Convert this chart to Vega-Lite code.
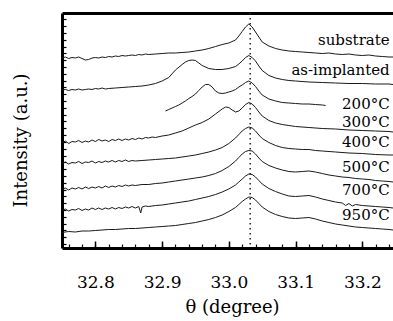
{
  "$schema": "https://vega.github.io/schema/vega-lite/v6.json",
  "width": 331,
  "height": 235,
  "autosize": {"type": "none"},
  "padding": {"left": 62, "top": 13, "right": 0, "bottom": 73},
  "background": "white",
  "config": {"view": {"stroke": null}, "font": "DejaVu Serif"},
  "datasets": {
    "curves": [
      {"s":"substrate","t":32.75,"i":190},{"s":"substrate","t":32.755,"i":191},{"s":"substrate","t":32.76,"i":189.5},{"s":"substrate","t":32.765,"i":190.5},{"s":"substrate","t":32.77,"i":190},{"s":"substrate","t":32.775,"i":191},{"s":"substrate","t":32.78,"i":189.5},{"s":"substrate","t":32.785,"i":188},{"s":"substrate","t":32.79,"i":188.5},{"s":"substrate","t":32.795,"i":190},{"s":"substrate","t":32.8,"i":190.5},{"s":"substrate","t":32.805,"i":190},{"s":"substrate","t":32.81,"i":191},{"s":"substrate","t":32.815,"i":190.5},{"s":"substrate","t":32.82,"i":191.5},{"s":"substrate","t":32.825,"i":191},{"s":"substrate","t":32.83,"i":192},{"s":"substrate","t":32.835,"i":191.5},{"s":"substrate","t":32.84,"i":192.5},{"s":"substrate","t":32.845,"i":192},{"s":"substrate","t":32.85,"i":192.5},{"s":"substrate","t":32.855,"i":193},{"s":"substrate","t":32.86,"i":192.5},{"s":"substrate","t":32.865,"i":193.5},{"s":"substrate","t":32.87,"i":193},{"s":"substrate","t":32.875,"i":194},{"s":"substrate","t":32.88,"i":193.5},{"s":"substrate","t":32.89,"i":194},{"s":"substrate","t":32.9,"i":194.5},{"s":"substrate","t":32.91,"i":195},{"s":"substrate","t":32.92,"i":195},{"s":"substrate","t":32.93,"i":195.5},{"s":"substrate","t":32.94,"i":196},{"s":"substrate","t":32.95,"i":197},{"s":"substrate","t":32.96,"i":198},{"s":"substrate","t":32.97,"i":199.5},{"s":"substrate","t":32.98,"i":201.5},{"s":"substrate","t":32.99,"i":203.5},{"s":"substrate","t":33.0,"i":205},{"s":"substrate","t":33.01,"i":208},{"s":"substrate","t":33.015,"i":212},{"s":"substrate","t":33.02,"i":216.5},{"s":"substrate","t":33.025,"i":221},{"s":"substrate","t":33.03,"i":224},{"s":"substrate","t":33.035,"i":221},{"s":"substrate","t":33.04,"i":216},{"s":"substrate","t":33.045,"i":211},{"s":"substrate","t":33.05,"i":206},{"s":"substrate","t":33.06,"i":202},{"s":"substrate","t":33.07,"i":199.5},{"s":"substrate","t":33.08,"i":198},{"s":"substrate","t":33.09,"i":197},{"s":"substrate","t":33.1,"i":196.5},{"s":"substrate","t":33.11,"i":196},{"s":"substrate","t":33.12,"i":195.5},{"s":"substrate","t":33.13,"i":195},{"s":"substrate","t":33.14,"i":194.5},{"s":"substrate","t":33.15,"i":195},{"s":"substrate","t":33.16,"i":194},{"s":"substrate","t":33.17,"i":193.5},{"s":"substrate","t":33.18,"i":194},{"s":"substrate","t":33.19,"i":193},{"s":"substrate","t":33.2,"i":192.5},{"s":"substrate","t":33.21,"i":193},{"s":"substrate","t":33.22,"i":192},{"s":"substrate","t":33.23,"i":191.5},{"s":"substrate","t":33.24,"i":191},{"s":"substrate","t":33.246,"i":191},

      {"s":"as-implanted","t":32.75,"i":158},{"s":"as-implanted","t":32.755,"i":158.5},{"s":"as-implanted","t":32.76,"i":157.5},{"s":"as-implanted","t":32.765,"i":158.5},{"s":"as-implanted","t":32.77,"i":158},{"s":"as-implanted","t":32.775,"i":159},{"s":"as-implanted","t":32.78,"i":158},{"s":"as-implanted","t":32.785,"i":158.5},{"s":"as-implanted","t":32.79,"i":159},{"s":"as-implanted","t":32.795,"i":158.5},{"s":"as-implanted","t":32.8,"i":159.5},{"s":"as-implanted","t":32.805,"i":159},{"s":"as-implanted","t":32.81,"i":160},{"s":"as-implanted","t":32.815,"i":159},{"s":"as-implanted","t":32.82,"i":159.5},{"s":"as-implanted","t":32.83,"i":160},{"s":"as-implanted","t":32.84,"i":160.5},{"s":"as-implanted","t":32.85,"i":161},{"s":"as-implanted","t":32.86,"i":161.5},{"s":"as-implanted","t":32.87,"i":162},{"s":"as-implanted","t":32.88,"i":163},{"s":"as-implanted","t":32.89,"i":164.5},{"s":"as-implanted","t":32.9,"i":167},{"s":"as-implanted","t":32.91,"i":170.5},{"s":"as-implanted","t":32.92,"i":178},{"s":"as-implanted","t":32.93,"i":183.5},{"s":"as-implanted","t":32.935,"i":186},{"s":"as-implanted","t":32.94,"i":187.5},{"s":"as-implanted","t":32.945,"i":188},{"s":"as-implanted","t":32.95,"i":187.5},{"s":"as-implanted","t":32.955,"i":185},{"s":"as-implanted","t":32.96,"i":182.5},{"s":"as-implanted","t":32.97,"i":179.5},{"s":"as-implanted","t":32.98,"i":178.5},{"s":"as-implanted","t":32.99,"i":178.5},{"s":"as-implanted","t":33.0,"i":179.5},{"s":"as-implanted","t":33.01,"i":181.5},{"s":"as-implanted","t":33.015,"i":184},{"s":"as-implanted","t":33.02,"i":187},{"s":"as-implanted","t":33.025,"i":190.5},{"s":"as-implanted","t":33.03,"i":192.5},{"s":"as-implanted","t":33.035,"i":190.5},{"s":"as-implanted","t":33.04,"i":187},{"s":"as-implanted","t":33.045,"i":182},{"s":"as-implanted","t":33.05,"i":177.5},{"s":"as-implanted","t":33.06,"i":172.5},{"s":"as-implanted","t":33.07,"i":170},{"s":"as-implanted","t":33.08,"i":168.5},{"s":"as-implanted","t":33.09,"i":167.5},{"s":"as-implanted","t":33.1,"i":167},{"s":"as-implanted","t":33.12,"i":166},{"s":"as-implanted","t":33.14,"i":165.5},{"s":"as-implanted","t":33.16,"i":165},{"s":"as-implanted","t":33.18,"i":164.5},{"s":"as-implanted","t":33.2,"i":164.5},{"s":"as-implanted","t":33.22,"i":164},{"s":"as-implanted","t":33.24,"i":164},{"s":"as-implanted","t":33.246,"i":163.5},

      {"s":"200","t":32.905,"i":137},{"s":"200","t":32.91,"i":138.5},{"s":"200","t":32.915,"i":140},{"s":"200","t":32.92,"i":141.5},{"s":"200","t":32.925,"i":143},{"s":"200","t":32.93,"i":145},{"s":"200","t":32.935,"i":147},{"s":"200","t":32.94,"i":149.5},{"s":"200","t":32.945,"i":151.5},{"s":"200","t":32.95,"i":154},{"s":"200","t":32.955,"i":157.5},{"s":"200","t":32.96,"i":161},{"s":"200","t":32.965,"i":163.5},{"s":"200","t":32.97,"i":163.5},{"s":"200","t":32.975,"i":161},{"s":"200","t":32.98,"i":157},{"s":"200","t":32.985,"i":155},{"s":"200","t":32.99,"i":154.5},{"s":"200","t":32.995,"i":155},{"s":"200","t":33.0,"i":156},{"s":"200","t":33.005,"i":157},{"s":"200","t":33.01,"i":158.5},{"s":"200","t":33.015,"i":161},{"s":"200","t":33.02,"i":163},{"s":"200","t":33.025,"i":165.5},{"s":"200","t":33.03,"i":167},{"s":"200","t":33.035,"i":165},{"s":"200","t":33.04,"i":161.5},{"s":"200","t":33.045,"i":157},{"s":"200","t":33.05,"i":153},{"s":"200","t":33.06,"i":149},{"s":"200","t":33.07,"i":147},{"s":"200","t":33.08,"i":145.5},{"s":"200","t":33.09,"i":145},{"s":"200","t":33.1,"i":144.5},{"s":"200","t":33.11,"i":144},{"s":"200","t":33.12,"i":144},{"s":"200","t":33.13,"i":143.5},{"s":"200","t":33.14,"i":143},{"s":"200","t":33.145,"i":142.5},

      {"s":"300","t":32.75,"i":105},{"s":"300","t":32.755,"i":107},{"s":"300","t":32.76,"i":104.5},{"s":"300","t":32.765,"i":106.5},{"s":"300","t":32.77,"i":106},{"s":"300","t":32.775,"i":107.5},{"s":"300","t":32.78,"i":105.5},{"s":"300","t":32.785,"i":107},{"s":"300","t":32.79,"i":106},{"s":"300","t":32.795,"i":108},{"s":"300","t":32.8,"i":106.5},{"s":"300","t":32.805,"i":108.5},{"s":"300","t":32.81,"i":107},{"s":"300","t":32.815,"i":108},{"s":"300","t":32.82,"i":106.5},{"s":"300","t":32.825,"i":108.5},{"s":"300","t":32.83,"i":107.5},{"s":"300","t":32.835,"i":109},{"s":"300","t":32.84,"i":107.5},{"s":"300","t":32.845,"i":109},{"s":"300","t":32.85,"i":108},{"s":"300","t":32.855,"i":109.5},{"s":"300","t":32.86,"i":108.5},{"s":"300","t":32.865,"i":110},{"s":"300","t":32.87,"i":109},{"s":"300","t":32.875,"i":110.5},{"s":"300","t":32.88,"i":110},{"s":"300","t":32.885,"i":111},{"s":"300","t":32.89,"i":110.5},{"s":"300","t":32.9,"i":112},{"s":"300","t":32.91,"i":113},{"s":"300","t":32.92,"i":115},{"s":"300","t":32.93,"i":117},{"s":"300","t":32.94,"i":120},{"s":"300","t":32.95,"i":123},{"s":"300","t":32.96,"i":125.5},{"s":"300","t":32.97,"i":129},{"s":"300","t":32.98,"i":134},{"s":"300","t":32.99,"i":139},{"s":"300","t":32.995,"i":141},{"s":"300","t":33.0,"i":140.5},{"s":"300","t":33.005,"i":138},{"s":"300","t":33.01,"i":136},{"s":"300","t":33.015,"i":137},{"s":"300","t":33.02,"i":140},{"s":"300","t":33.025,"i":143.5},{"s":"300","t":33.03,"i":145.5},{"s":"300","t":33.035,"i":144},{"s":"300","t":33.04,"i":140.5},{"s":"300","t":33.045,"i":136},{"s":"300","t":33.05,"i":132},{"s":"300","t":33.06,"i":127.5},{"s":"300","t":33.07,"i":125},{"s":"300","t":33.08,"i":123.5},{"s":"300","t":33.09,"i":122.5},{"s":"300","t":33.1,"i":121.5},{"s":"300","t":33.12,"i":120.5},{"s":"300","t":33.14,"i":119.5},{"s":"300","t":33.16,"i":119},{"s":"300","t":33.18,"i":118},{"s":"300","t":33.2,"i":117.5},{"s":"300","t":33.22,"i":117},{"s":"300","t":33.24,"i":116.5},{"s":"300","t":33.246,"i":116},

      {"s":"400","t":32.75,"i":84.5},{"s":"400","t":32.755,"i":86},{"s":"400","t":32.76,"i":84},{"s":"400","t":32.765,"i":85.5},{"s":"400","t":32.77,"i":85},{"s":"400","t":32.775,"i":86.5},{"s":"400","t":32.78,"i":84.5},{"s":"400","t":32.785,"i":86},{"s":"400","t":32.79,"i":85.5},{"s":"400","t":32.795,"i":87},{"s":"400","t":32.8,"i":85},{"s":"400","t":32.805,"i":86.5},{"s":"400","t":32.81,"i":85.5},{"s":"400","t":32.815,"i":87},{"s":"400","t":32.82,"i":86},{"s":"400","t":32.825,"i":87.5},{"s":"400","t":32.83,"i":86},{"s":"400","t":32.835,"i":87.5},{"s":"400","t":32.84,"i":86.5},{"s":"400","t":32.845,"i":88},{"s":"400","t":32.85,"i":86.5},{"s":"400","t":32.855,"i":87.5},{"s":"400","t":32.86,"i":87},{"s":"400","t":32.87,"i":87.5},{"s":"400","t":32.88,"i":88},{"s":"400","t":32.89,"i":88.5},{"s":"400","t":32.9,"i":89},{"s":"400","t":32.91,"i":89.5},{"s":"400","t":32.92,"i":90},{"s":"400","t":32.93,"i":91},{"s":"400","t":32.94,"i":92},{"s":"400","t":32.95,"i":93},{"s":"400","t":32.96,"i":94.5},{"s":"400","t":32.97,"i":96},{"s":"400","t":32.98,"i":98},{"s":"400","t":32.99,"i":100.5},{"s":"400","t":33.0,"i":104.5},{"s":"400","t":33.01,"i":110},{"s":"400","t":33.015,"i":113.5},{"s":"400","t":33.02,"i":117},{"s":"400","t":33.025,"i":119.5},{"s":"400","t":33.03,"i":121},{"s":"400","t":33.035,"i":120},{"s":"400","t":33.04,"i":117},{"s":"400","t":33.045,"i":113},{"s":"400","t":33.05,"i":109.5},{"s":"400","t":33.06,"i":105.5},{"s":"400","t":33.07,"i":102.5},{"s":"400","t":33.08,"i":100.5},{"s":"400","t":33.09,"i":99.5},{"s":"400","t":33.1,"i":99},{"s":"400","t":33.11,"i":98.5},{"s":"400","t":33.12,"i":98.5},{"s":"400","t":33.13,"i":97.5},{"s":"400","t":33.14,"i":97},{"s":"400","t":33.16,"i":96},{"s":"400","t":33.18,"i":95},{"s":"400","t":33.2,"i":94.5},{"s":"400","t":33.22,"i":93.5},{"s":"400","t":33.24,"i":93},{"s":"400","t":33.246,"i":93},

      {"s":"500","t":32.75,"i":58.5},{"s":"500","t":32.755,"i":60},{"s":"500","t":32.76,"i":58},{"s":"500","t":32.765,"i":60},{"s":"500","t":32.77,"i":59},{"s":"500","t":32.775,"i":60.5},{"s":"500","t":32.78,"i":59},{"s":"500","t":32.785,"i":61},{"s":"500","t":32.79,"i":59.5},{"s":"500","t":32.795,"i":61},{"s":"500","t":32.8,"i":60},{"s":"500","t":32.805,"i":61.5},{"s":"500","t":32.81,"i":60},{"s":"500","t":32.815,"i":62},{"s":"500","t":32.82,"i":60.5},{"s":"500","t":32.825,"i":62},{"s":"500","t":32.83,"i":61},{"s":"500","t":32.835,"i":62.5},{"s":"500","t":32.84,"i":61.5},{"s":"500","t":32.845,"i":63},{"s":"500","t":32.85,"i":62},{"s":"500","t":32.855,"i":63},{"s":"500","t":32.86,"i":62.5},{"s":"500","t":32.87,"i":63.5},{"s":"500","t":32.88,"i":63.5},{"s":"500","t":32.89,"i":64.5},{"s":"500","t":32.9,"i":65},{"s":"500","t":32.91,"i":66},{"s":"500","t":32.92,"i":67},{"s":"500","t":32.93,"i":68},{"s":"500","t":32.94,"i":69},{"s":"500","t":32.95,"i":70},{"s":"500","t":32.96,"i":71},{"s":"500","t":32.97,"i":72.5},{"s":"500","t":32.98,"i":74.5},{"s":"500","t":32.99,"i":77.5},{"s":"500","t":33.0,"i":81.5},{"s":"500","t":33.01,"i":87},{"s":"500","t":33.015,"i":90.5},{"s":"500","t":33.02,"i":94},{"s":"500","t":33.025,"i":96.5},{"s":"500","t":33.03,"i":97.5},{"s":"500","t":33.035,"i":97},{"s":"500","t":33.04,"i":94},{"s":"500","t":33.045,"i":90},{"s":"500","t":33.05,"i":86.5},{"s":"500","t":33.06,"i":82.5},{"s":"500","t":33.07,"i":80},{"s":"500","t":33.08,"i":78},{"s":"500","t":33.09,"i":76.5},{"s":"500","t":33.1,"i":76},{"s":"500","t":33.11,"i":76.5},{"s":"500","t":33.12,"i":77},{"s":"500","t":33.13,"i":76},{"s":"500","t":33.14,"i":74.5},{"s":"500","t":33.15,"i":73},{"s":"500","t":33.16,"i":72},{"s":"500","t":33.17,"i":71},{"s":"500","t":33.18,"i":70.5},{"s":"500","t":33.19,"i":69.5},{"s":"500","t":33.2,"i":69},{"s":"500","t":33.21,"i":68.5},{"s":"500","t":33.22,"i":67.5},{"s":"500","t":33.23,"i":67},{"s":"500","t":33.24,"i":66.5},{"s":"500","t":33.246,"i":66},

      {"s":"700","t":32.75,"i":37.5},{"s":"700","t":32.755,"i":39},{"s":"700","t":32.76,"i":37},{"s":"700","t":32.765,"i":38.5},{"s":"700","t":32.77,"i":38},{"s":"700","t":32.775,"i":39.5},{"s":"700","t":32.78,"i":37.5},{"s":"700","t":32.785,"i":39},{"s":"700","t":32.79,"i":38},{"s":"700","t":32.795,"i":40},{"s":"700","t":32.8,"i":38.5},{"s":"700","t":32.805,"i":40},{"s":"700","t":32.81,"i":38.5},{"s":"700","t":32.815,"i":40},{"s":"700","t":32.82,"i":39},{"s":"700","t":32.825,"i":40.5},{"s":"700","t":32.83,"i":39},{"s":"700","t":32.835,"i":40.5},{"s":"700","t":32.84,"i":39.5},{"s":"700","t":32.845,"i":41},{"s":"700","t":32.85,"i":40},{"s":"700","t":32.855,"i":41.5},{"s":"700","t":32.86,"i":40},{"s":"700","t":32.865,"i":41.5},{"s":"700","t":32.868,"i":35},{"s":"700","t":32.87,"i":41},{"s":"700","t":32.875,"i":42},{"s":"700","t":32.88,"i":41.5},{"s":"700","t":32.89,"i":42.5},{"s":"700","t":32.9,"i":43},{"s":"700","t":32.91,"i":44},{"s":"700","t":32.92,"i":45},{"s":"700","t":32.93,"i":46},{"s":"700","t":32.94,"i":47},{"s":"700","t":32.95,"i":48.5},{"s":"700","t":32.96,"i":50},{"s":"700","t":32.97,"i":51.5},{"s":"700","t":32.98,"i":53.5},{"s":"700","t":32.99,"i":56},{"s":"700","t":33.0,"i":59},{"s":"700","t":33.01,"i":63},{"s":"700","t":33.015,"i":66},{"s":"700","t":33.02,"i":69},{"s":"700","t":33.025,"i":72},{"s":"700","t":33.03,"i":74},{"s":"700","t":33.035,"i":73.5},{"s":"700","t":33.04,"i":71},{"s":"700","t":33.045,"i":67.5},{"s":"700","t":33.05,"i":64},{"s":"700","t":33.06,"i":59.5},{"s":"700","t":33.07,"i":56.5},{"s":"700","t":33.08,"i":54},{"s":"700","t":33.09,"i":52},{"s":"700","t":33.1,"i":51.5},{"s":"700","t":33.11,"i":52},{"s":"700","t":33.12,"i":52.5},{"s":"700","t":33.13,"i":51},{"s":"700","t":33.14,"i":49},{"s":"700","t":33.15,"i":47.5},{"s":"700","t":33.16,"i":46},{"s":"700","t":33.17,"i":45},{"s":"700","t":33.175,"i":42.5},{"s":"700","t":33.18,"i":44.5},{"s":"700","t":33.185,"i":42},{"s":"700","t":33.19,"i":43.5},{"s":"700","t":33.2,"i":42.5},{"s":"700","t":33.21,"i":42},{"s":"700","t":33.22,"i":41.5},{"s":"700","t":33.23,"i":41},{"s":"700","t":33.24,"i":40.5},{"s":"700","t":33.246,"i":40},

      {"s":"950","t":32.75,"i":15.5},{"s":"950","t":32.76,"i":16.5},{"s":"950","t":32.77,"i":16},{"s":"950","t":32.78,"i":17},{"s":"950","t":32.79,"i":17},{"s":"950","t":32.8,"i":17.5},{"s":"950","t":32.81,"i":18},{"s":"950","t":32.82,"i":18.5},{"s":"950","t":32.83,"i":18.5},{"s":"950","t":32.84,"i":19},{"s":"950","t":32.85,"i":19.5},{"s":"950","t":32.86,"i":19.5},{"s":"950","t":32.87,"i":20},{"s":"950","t":32.88,"i":20.5},{"s":"950","t":32.89,"i":21},{"s":"950","t":32.9,"i":21.5},{"s":"950","t":32.91,"i":22},{"s":"950","t":32.92,"i":22.5},{"s":"950","t":32.93,"i":23.5},{"s":"950","t":32.94,"i":24.5},{"s":"950","t":32.95,"i":25.5},{"s":"950","t":32.96,"i":27},{"s":"950","t":32.97,"i":28.5},{"s":"950","t":32.98,"i":30.5},{"s":"950","t":32.99,"i":33},{"s":"950","t":33.0,"i":36.5},{"s":"950","t":33.01,"i":40.5},{"s":"950","t":33.015,"i":43.5},{"s":"950","t":33.02,"i":46.5},{"s":"950","t":33.025,"i":49},{"s":"950","t":33.03,"i":51},{"s":"950","t":33.035,"i":50.5},{"s":"950","t":33.04,"i":48},{"s":"950","t":33.045,"i":44.5},{"s":"950","t":33.05,"i":41},{"s":"950","t":33.06,"i":36.5},{"s":"950","t":33.07,"i":33.5},{"s":"950","t":33.08,"i":31.5},{"s":"950","t":33.09,"i":30},{"s":"950","t":33.1,"i":29.5},{"s":"950","t":33.11,"i":30},{"s":"950","t":33.12,"i":30.5},{"s":"950","t":33.13,"i":29},{"s":"950","t":33.14,"i":27},{"s":"950","t":33.15,"i":25.5},{"s":"950","t":33.16,"i":24},{"s":"950","t":33.17,"i":23},{"s":"950","t":33.18,"i":22},{"s":"950","t":33.19,"i":21},{"s":"950","t":33.2,"i":20.5},{"s":"950","t":33.21,"i":20},{"s":"950","t":33.22,"i":19.5},{"s":"950","t":33.23,"i":19},{"s":"950","t":33.24,"i":18.5},{"s":"950","t":33.246,"i":18}
    ],
    "labels": [
      {"label":"substrate","t":33.241,"i":203.5},
      {"label":"as-implanted","t":33.241,"i":173},
      {"label":"200°C","t":33.241,"i":139},
      {"label":"300°C","t":33.241,"i":121},
      {"label":"400°C","t":33.241,"i":101},
      {"label":"500°C","t":33.241,"i":76},
      {"label":"700°C","t":33.241,"i":53},
      {"label":"950°C","t":33.241,"i":28}
    ],
    "ref": [{"t":33.032}]
  },
  "layer": [
    {
      "data": {"name": "curves"},
      "mark": {"type": "line", "color": "#1a1a1a", "strokeWidth": 1, "interpolate": "linear"},
      "encoding": {
        "x": {"field": "t", "type": "quantitative", "scale": {"domain": [32.75, 33.246], "nice": false, "zero": false},
          "axis": {"orient": "bottom", "values": [32.76,32.78,32.8,32.82,32.84,32.86,32.88,32.9,32.92,32.94,32.96,32.98,33.0,33.02,33.04,33.06,33.08,33.1,33.12,33.14,33.16,33.18,33.2,33.22,33.24],
            "tickSize": -4, "tickWidth": 1.2, "tickColor": "black", "labels": false, "grid": false, "domain": true, "domainWidth": 3, "domainColor": "black", "title": null}},
        "y": {"field": "i", "type": "quantitative", "scale": {"domain": [0, 235], "nice": false, "zero": false},
          "axis": {"orient": "left", "values": [228.7,221.9,215.1,208.3,201.5,194.7,187.8,181.0,174.2,167.4,160.6,153.8,147.0,140.2,133.4,126.6,119.7,112.9,106.1,99.3,92.5,85.7,78.9,72.1,65.3,58.5,51.7,44.8,38.0,31.2,24.4,17.6,10.8,4.0],
            "tickSize": -4, "tickWidth": 1.2, "tickColor": "black", "labels": false, "grid": false, "domainWidth": 3, "domainColor": "black",
            "title": "Intensity (a.u.)", "titleFont": "DejaVu Serif", "titleFontSize": 18, "titleFontWeight": "normal", "titleColor": "black",
            "titleAngle": -90, "titleX": -36, "titleY": 127, "titleAlign": "center", "titleBaseline": "alphabetic"}},
        "detail": {"field": "s", "type": "nominal"}
      }
    },
    {
      "data": {"name": "ref"},
      "mark": {"type": "rule", "color": "#222", "strokeWidth": 1.5, "strokeDash": [1.5, 3.5]},
      "encoding": {
        "x": {"field": "t", "type": "quantitative",
          "axis": {"orient": "bottom", "values": [32.8, 32.9, 33.0, 33.1, 33.2], "format": ".1f", "tickSize": -7, "tickWidth": 1.5, "tickColor": "black", "domain": false, "grid": false,
            "labelFont": "DejaVu Serif", "labelFontSize": 17, "labelColor": "black", "labelBaseline": "alphabetic", "labelPadding": 46,
            "title": "θ (degree)", "titleFont": "DejaVu Serif", "titleFontSize": 18, "titleFontWeight": "normal", "titleColor": "black",
            "titleX": 170, "titleY": 64, "titleAlign": "center", "titleBaseline": "alphabetic"}}
      }
    },
    {
      "data": {"name": "labels"},
      "mark": {"type": "text", "align": "right", "baseline": "alphabetic", "font": "DejaVu Serif", "fontSize": 15, "color": "black"},
      "encoding": {
        "x": {"field": "t", "type": "quantitative",
          "axis": {"orient": "top", "ticks": false, "labels": false, "grid": false, "domain": true, "domainWidth": 3, "domainColor": "black", "title": null}},
        "y": {"field": "i", "type": "quantitative", "axis": null},
        "text": {"field": "label", "type": "nominal"}
      }
    }
  ],
  "resolve": {"axis": {"x": "independent", "y": "independent"}}
}
